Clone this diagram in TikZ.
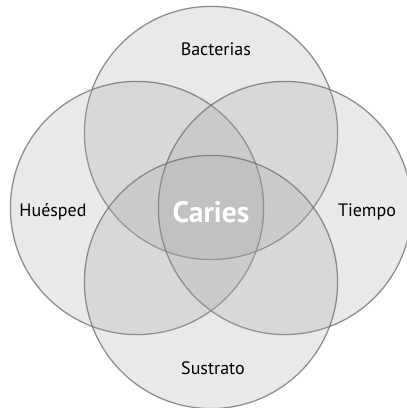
\documentclass[tikz,border=0pt]{standalone}
\usepackage{fontspec}
\setmainfont{PT Sans}
\usepackage{tikz}
\usetikzlibrary{positioning}

\tikzset{
  factor/.style={circle, minimum size=6.33cm, inner sep=0pt, draw=black!55, line width=0.9pt,
    draw opacity=0.8, fill=black!37, fill opacity=0.24},
  tag/.style={font=\fontsize{12.8}{15}\selectfont, text=black},
}

\begin{document}
\begin{tikzpicture}
				\useasboundingbox (-5.275,-5.0) rectangle (4.9,5.2);
				\node[factor] (bac) at (0,1.875) {};
				\node[factor] (hue) at (-1.85,0) {};
				\node[factor] (tie) at (1.85,0) {};
				\node[factor] (sus) at (0,-1.85) {};
				
				\node[tag] (Lbac) at (0.12,3.98) {Bacterias};
				\node[tag] (Lhue) at (-3.95,-0.1) {Huésped};
				\node[tag] (Ltie) at (3.9,-0.1) {Tiempo};
				\node[tag] (Lsus) at (0.05,-4.0) {Sustrato};
				\node[font=\fontsize{21}{24}\selectfont\bfseries, text=white] (car) at (0,-0.1) {Caries};
			\end{tikzpicture}
\end{document}
